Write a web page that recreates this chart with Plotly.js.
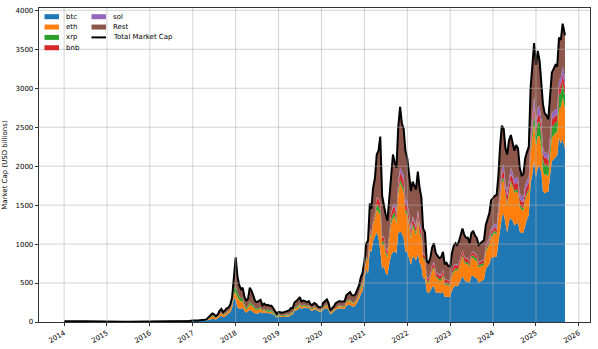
<!DOCTYPE html>
<html lang="en">
<head>
<meta charset="UTF-8">
<title>Crypto market cap</title>
<script src="https://cdn.plot.ly/plotly-3.0.1.min.js"></script>
<style>
  html, body { margin: 0; padding: 0; background: #fff; }
  #chart { width: 598px; height: 349px; }
</style>
</head>
<body>
<div id="chart"></div>
<script>
// dates: monthly for 2014-2016, then the 1st and 16th of every month, last point 2025-09-05
const dates = [];
for (let y = 2014; y <= 2016; y++)
  for (let m = 1; m <= 12; m++) dates.push(`${y}-${String(m).padStart(2, '0')}-01`);
for (let y = 2017; y <= 2025; y++)
  for (let m = 1; m <= 12; m++) {
    if (y === 2025 && m > 8) break;
    const mm = String(m).padStart(2, '0');
    dates.push(`${y}-${mm}-01`, `${y}-${mm}-16`);
  }
dates.push('2025-09-05');

// market caps, USD billions
const btc = [
  9.5, 7.5, 6.8, 5.5, 6, 7.8, 7.7, 6.5, 5.5, 4.5, 4.8, 4.5,
  4.3, 3.2, 3.4, 3.5, 3.3, 3.3, 3.9, 4, 3.4, 3.5, 4.6, 5.7,
  6.5, 5.6, 6.4, 6.4, 7, 8.5, 10.5, 9.3, 9.4, 9.8, 11.5, 12.3,
  15.5, 13.5, 15.5, 16.5, 19.5, 19, 17.5, 19.5, 22.5, 29, 38, 40, 40, 31, 45, 70, 78, 62, 72, 93, 108, 128, 175, 315,
  280, 190, 170, 170, 182, 140, 118, 135, 158, 143, 128, 110, 109, 113, 130, 110, 123, 112, 114, 111, 110, 95, 70, 57,
  67, 64, 61, 64, 67, 70, 72, 90, 94, 140, 150, 160, 190, 165, 180, 185, 172, 183, 150, 145, 165, 155, 135, 130,
  130, 160, 170, 180, 155, 96, 115, 130, 160, 170, 175, 172, 168, 168, 210, 220, 220, 200, 200, 210, 255, 295, 355, 400,
  540, 680, 620, 930, 900, 1040, 1100, 1150, 1080, 920, 680, 720, 630, 600, 750, 860, 900, 905, 880, 1140, 1160, 1140, 1080, 900,
  900, 820, 730, 840, 830, 790, 870, 760, 720, 560, 560, 390, 370, 400, 450, 460, 380, 380, 370, 370, 390, 320, 325, 320,
  320, 405, 450, 470, 455, 480, 550, 590, 540, 520, 520, 500, 590, 590, 570, 560, 505, 515, 525, 545, 680, 710, 745, 825,
  830, 840, 840, 1020, 1210, 1340, 1390, 1240, 1150, 1290, 1330, 1300, 1240, 1260, 1270, 1160, 1140, 1150, 1250, 1320, 1370, 1780, 1900, 2070,
  1860, 1980, 2000, 1920, 1680, 1650, 1670, 1670, 1880, 2060, 2090, 2120, 2140, 2360, 2290, 2350, 2220
];
const eth = [
  0, 0, 0, 0, 0, 0, 0, 0, 0, 0, 0, 0,
  0, 0, 0, 0, 0, 0, 0, 0.2, 0.08, 0.07, 0.07, 0.07,
  0.07, 0.3, 0.5, 0.8, 0.7, 1.1, 1.0, 1.0, 0.9, 1.1, 0.95, 0.8,
  0.7, 0.85, 0.95, 1.15, 1.5, 2.6, 4.6, 4.5, 7, 8.3, 20, 33, 27, 18, 21, 28, 36, 24, 29, 32, 29, 32, 45, 68,
  90, 130, 110, 92, 85, 58, 38, 50, 66, 68, 58, 50, 46, 47, 42, 30, 30, 23, 24, 21, 20, 18, 12, 9.5,
  14, 13, 11, 13, 14, 15, 15, 17, 17, 26, 28, 29, 31, 23, 23, 20, 18, 21, 19, 19, 20, 20, 16, 14,
  14, 18, 20, 31, 25, 12, 15, 19, 23, 22, 26, 26, 25, 26, 44, 49, 54, 41, 40, 43, 45, 52, 70, 72,
  85, 140, 155, 205, 165, 210, 225, 290, 335, 450, 310, 270, 245, 225, 295, 390, 430, 450, 380, 490, 620, 580, 590, 500,
  470, 420, 340, 380, 350, 320, 420, 370, 345, 245, 220, 130, 130, 160, 205, 230, 190, 175, 160, 160, 195, 150, 155, 150,
  145, 190, 195, 200, 200, 200, 220, 250, 225, 220, 225, 200, 230, 230, 225, 220, 195, 195, 200, 190, 220, 245, 250, 270,
  280, 305, 275, 335, 410, 445, 430, 370, 355, 350, 455, 430, 415, 415, 385, 315, 300, 280, 315, 315, 305, 375, 435, 480,
  405, 400, 390, 325, 265, 230, 230, 190, 220, 310, 305, 310, 295, 380, 465, 530, 520
];
const xrp = [
  0.18, 0.15, 0.13, 0.12, 0.12, 0.1, 0.08, 0.08, 0.1, 0.12, 0.2, 0.25,
  0.6, 0.5, 0.4, 0.3, 0.25, 0.3, 0.25, 0.25, 0.25, 0.2, 0.25, 0.2,
  0.25, 0.25, 0.3, 0.25, 0.25, 0.25, 0.25, 0.25, 0.25, 0.3, 0.3, 0.25,
  0.25, 0.25, 0.25, 0.25, 0.25, 0.3, 0.3, 1.3, 1.5, 10, 10, 10, 10, 7, 6.5, 6.5, 8.3, 7.2, 7.6, 7.5, 8, 8.5, 9.5, 28,
  95, 55, 45, 45, 36, 28, 20, 28, 33, 27, 24, 20, 18, 18, 17, 11, 13, 12, 23, 18, 18, 20, 15, 11,
  14.5, 13.5, 12.5, 13, 13, 13, 14, 14.5, 13, 17, 18, 18, 17, 13.5, 13, 12, 11, 11.5, 11, 12.5, 13, 11.5, 10, 8.5,
  8.5, 10, 10.5, 12, 10, 6.5, 7.5, 8, 9, 8.8, 9, 8.4, 7.8, 8.8, 13.5, 13, 12.5, 11, 10.5, 11, 10.5, 11.5, 28, 26,
  10, 13, 17, 25, 20, 22, 25, 75, 70, 72, 45, 40, 33, 28, 33, 60, 55, 52, 45, 52, 52, 52, 45, 40,
  40, 37, 30, 38, 38, 38, 40, 37, 30, 20, 19, 15, 15, 17, 18, 18, 16, 18, 23, 23, 23, 19, 20, 18,
  17, 20, 21, 20, 19, 19, 26, 26, 23, 22, 27, 25, 24, 37, 37, 33, 27, 26, 27, 27, 32, 34, 33, 33,
  34, 31, 28, 29, 33, 34, 34, 27, 28, 29, 29, 27, 26, 30, 32, 32, 32, 32, 34, 30, 30, 45, 80, 140,
  120, 180, 175, 160, 140, 135, 125, 120, 125, 140, 130, 130, 130, 170, 180, 185, 170
];
const bnb = [
  0, 0, 0, 0, 0, 0, 0, 0, 0, 0, 0, 0,
  0, 0, 0, 0, 0, 0, 0, 0, 0, 0, 0, 0,
  0, 0, 0, 0, 0, 0, 0, 0, 0, 0, 0, 0,
  0, 0, 0, 0, 0, 0, 0, 0, 0, 0, 0, 0, 0, 0.02, 0.03, 0.03, 0.2, 0.1, 0.15, 0.15, 0.15, 0.2, 0.2, 0.8,
  1, 2, 1.2, 1.3, 1.2, 1.2, 1, 1.3, 1.4, 1.5, 1.5, 1.5, 1.5, 1.5, 1.4, 1.1, 1.1, 1, 1.1, 1, 1, 0.9, 0.7, 0.7,
  0.9, 0.9, 0.9, 1.5, 1.6, 2, 2.4, 2.7, 2.7, 2.8, 4.4, 4.7, 4.8, 4.6, 4.4, 4.4, 3.6, 3.6, 2.5, 2.8, 2.8, 3.1, 2.6, 2.5,
  2.1, 2.8, 2.7, 4, 3.2, 1.7, 2, 2.4, 2.6, 2.6, 2.6, 2.4, 2.3, 2.8, 3.3, 3.3, 3.3, 4.3, 4.1, 4.5, 4.2, 4.3, 4.4, 4.5,
  6, 6.5, 6.5, 40, 35, 38, 50, 80, 95, 90, 55, 55, 50, 50, 55, 65, 80, 72, 68, 75, 90, 95, 105, 90,
  85, 80, 65, 70, 65, 65, 70, 70, 65, 50, 50, 35, 35, 40, 48, 50, 47, 45, 45, 45, 55, 45, 45, 40,
  40, 48, 50, 50, 45, 50, 50, 53, 50, 49, 47, 40, 40, 37, 37, 37, 33, 33, 33, 33, 35, 38, 35, 40,
  48, 45, 45, 55, 60, 65, 90, 85, 85, 88, 90, 93, 83, 85, 85, 80, 75, 80, 85, 85, 85, 90, 90, 105,
  100, 100, 95, 95, 85, 90, 85, 85, 85, 90, 95, 90, 90, 100, 110, 115, 120
];
const sol = [
  0, 0, 0, 0, 0, 0, 0, 0, 0, 0, 0, 0,
  0, 0, 0, 0, 0, 0, 0, 0, 0, 0, 0, 0,
  0, 0, 0, 0, 0, 0, 0, 0, 0, 0, 0, 0,
  0, 0, 0, 0, 0, 0, 0, 0, 0, 0, 0, 0, 0, 0, 0, 0, 0, 0, 0, 0, 0, 0, 0, 0,
  0, 0, 0, 0, 0, 0, 0, 0, 0, 0, 0, 0, 0, 0, 0, 0, 0, 0, 0, 0, 0, 0, 0, 0,
  0, 0, 0, 0, 0, 0, 0, 0, 0, 0, 0, 0, 0, 0, 0, 0, 0, 0, 0, 0, 0, 0, 0, 0,
  0, 0, 0, 0, 0, 0, 0, 0, 0, 0, 0, 0, 0.05, 0.1, 0.15, 0.2, 0.3, 0.15, 0.15, 0.1, 0.1, 0.1, 0.1, 0.1,
  0.1, 0.2, 0.6, 2.5, 3, 4, 5, 7, 12, 15, 10, 10, 9, 8, 10, 20, 30, 45, 42, 45, 60, 68, 65, 55,
  50, 45, 30, 28, 30, 30, 42, 34, 30, 18, 15, 11, 11, 13, 15, 15, 13, 12, 12, 11, 12, 5, 5, 4,
  4, 8, 9, 9, 9, 8, 8, 8, 8, 7, 8, 6, 8, 11, 10, 10, 8, 8, 8, 9, 14, 20, 25, 32,
  45, 42, 43, 48, 58, 75, 80, 65, 60, 75, 80, 65, 65, 70, 80, 68, 65, 62, 70, 70, 75, 100, 110, 105,
  95, 100, 110, 95, 75, 65, 65, 65, 80, 90, 85, 80, 80, 90, 95, 100, 115
];
const rest = [
  1.4, 1.1, 1.0, 0.7, 0.7, 0.8, 0.7, 0.6, 0.5, 0.4, 0.4, 0.5,
  0.5, 0.4, 0.4, 0.35, 0.3, 0.3, 0.4, 0.3, 0.3, 0.3, 0.35, 0.4,
  0.5, 0.5, 0.6, 0.7, 0.8, 1.0, 1.0, 0.9, 0.9, 1.0, 0.9, 1.0,
  1.55, 1.4, 1.3, 1.6, 1.75, 2.1, 2.6, 2.7, 7, 12.7, 22, 27, 23, 19, 22.5, 40, 45.5, 31.7, 41, 42.3, 40, 56, 80, 188,
  364, 203, 144, 112, 136, 103, 93, 86, 182, 160, 118, 88, 80, 96, 95, 63, 68, 67, 58, 59, 61, 46, 37, 27,
  34, 34, 33, 36, 39, 42, 45, 56, 51, 64, 65, 78, 77, 59, 55, 47, 50, 49, 42, 39, 44, 42, 36, 35,
  37, 54, 59, 63, 52, 36, 38, 41, 47, 52, 55, 53, 57, 59, 74, 86, 95, 88, 85, 86, 95, 107, 112, 127,
  139, 160, 251, 318, 327, 406, 445, 548, 608, 833, 520, 385, 413, 389, 477, 555, 655, 526, 565, 698, 778, 615, 595, 615,
  555, 498, 485, 444, 437, 457, 488, 449, 410, 307, 286, 199, 199, 190, 224, 237, 234, 220, 210, 221, 225, 201, 210, 188,
  184, 209, 255, 261, 252, 273, 286, 273, 274, 262, 253, 239, 248, 265, 231, 220, 222, 233, 247, 246, 269, 283, 312, 360,
  363, 357, 399, 393, 479, 561, 456, 443, 472, 498, 416, 385, 371, 410, 378, 325, 268, 296, 346, 360, 385, 610, 685, 680,
  720, 720, 580, 505, 555, 510, 475, 470, 510, 510, 545, 570, 545, 550, 480, 550, 535
];

const names = ['btc', 'eth', 'xrp', 'bnb', 'sol', 'Rest'];
const colors = ['#1f77b4', '#ff7f0e', '#2ca02c', '#d62728', '#9467bd', '#8c564b'];
const series = [btc, eth, xrp, bnb, sol, rest];
const total = dates.map((d, i) => series.reduce((s, a) => s + a[i], 0));

const yearTicks = [2014, 2015, 2016, 2017, 2018, 2019, 2020, 2021, 2022, 2023, 2024, 2025, 2026];
const yTicks = [0, 500, 1000, 1500, 2000, 2500, 3000, 3500, 4000];

const font = { family: 'DejaVu Sans, sans-serif', size: 7, color: '#000' };

const data = series.map((vals, k) => ({
  x: dates, y: vals, type: 'scatter', mode: 'lines',
  stackgroup: 'caps', line: { width: 0 }, fillcolor: colors[k],
  name: names[k], showlegend: false, hoverinfo: 'skip'
}));
data.push({
  x: dates, y: total, type: 'scatter', mode: 'lines',
  line: { color: '#000', width: 2 }, name: 'Total Market Cap', showlegend: false
});

// plot area in pixels: x 39..590, y 8..322
const W = 551, H = 314;
const px = v => (v - 39) / W;
const py = v => 1 - (v - 8) / H;

// grid drawn on top of the areas, like the matplotlib original
const shapes = [];
yearTicks.forEach(y => shapes.push({
  type: 'line', layer: 'above', xref: 'x', yref: 'paper', x0: `${y}-01-01`, x1: `${y}-01-01`, y0: 0, y1: 1,
  line: { color: 'rgba(176,176,176,0.55)', width: 1 }
}));
yTicks.slice(1).forEach(v => shapes.push({
  type: 'line', layer: 'above', xref: 'paper', yref: 'y', x0: 0, x1: 1, y0: v, y1: v,
  line: { color: 'rgba(176,176,176,0.55)', width: 1 }
}));

// legend, two columns
const annotations = [];
const items = names.map((n, k) => ({ n, c: colors[k], line: false }))
  .concat([{ n: 'Total Market Cap', c: '#000', line: true }]);
items.forEach((it, i) => {
  const col = Math.floor(i / 4), row = i % 4;
  const hx = col ? 91.5 : 44.5, cy = 16.7 + row * 10.35;
  if (it.line) {
    shapes.push({ type: 'line', xref: 'paper', yref: 'paper', x0: px(hx), x1: px(hx + 14.5),
      y0: py(cy), y1: py(cy), line: { color: it.c, width: 2 } });
  } else {
    shapes.push({ type: 'rect', xref: 'paper', yref: 'paper', x0: px(hx), x1: px(hx + 14.5),
      y0: py(cy + 2.5), y1: py(cy - 2.5), fillcolor: it.c, line: { width: 0 } });
  }
  annotations.push({ xref: 'paper', yref: 'paper', x: px(hx + 19), y: py(cy), text: it.n,
    showarrow: false, xanchor: 'left', yanchor: 'middle', font });
});

const layout = {
  width: 598, height: 349,
  margin: { l: 39, r: 8, t: 8, b: 27 },
  paper_bgcolor: '#fff', plot_bgcolor: '#fff',
  font,
  showlegend: false,
  xaxis: {
    type: 'date', range: ['2013-06-01', '2026-04-06'],
    tickvals: yearTicks.map(y => `${y}-01-01`), ticktext: yearTicks.map(String),
    tickangle: -30, ticks: 'outside', ticklen: 3.5, tickwidth: 0.8, tickcolor: '#000',
    showgrid: false, zeroline: false,
    showline: true, linecolor: '#000', linewidth: 0.8, mirror: true, tickfont: font
  },
  yaxis: {
    range: [0, 4030], tickvals: yTicks, ticks: 'outside', ticklen: 3.5, tickwidth: 0.8, tickcolor: '#000',
    showgrid: false, zeroline: false,
    showline: true, linecolor: '#000', linewidth: 0.8, mirror: true, tickfont: font,
    title: { text: 'Market Cap (USD billions)', font, standoff: 6 }
  },
  shapes, annotations
};

Plotly.newPlot('chart', data, layout, { displayModeBar: false, staticPlot: true });
</script>
</body>
</html>
